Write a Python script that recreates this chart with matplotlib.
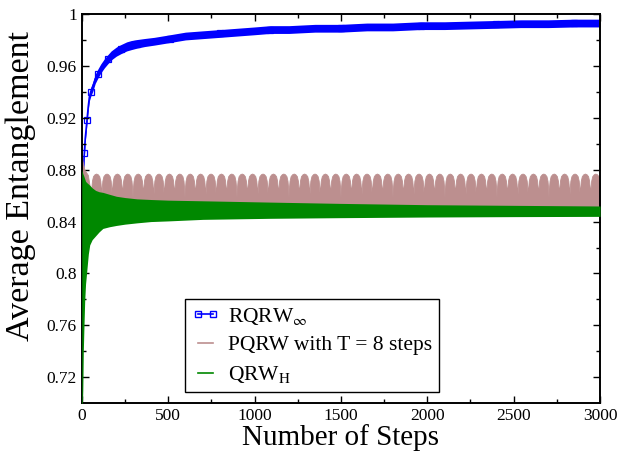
"""Average entanglement vs number of steps for three walk protocols."""

import matplotlib
matplotlib.use("Agg")
import matplotlib.pyplot as plt
import numpy as np

# --- RQRW_inf: centre of the (noisy) blue band
rqrw_steps = [0, 5, 10, 15, 20, 25, 30, 37, 44, 52, 64, 78, 93, 110, 131, 150,
              170, 200, 228, 260, 286, 320, 364, 420, 511, 600, 700, 801, 900,
              1000, 1091, 1200, 1350, 1500, 1650, 1800, 1961, 2100, 2250, 2400,
              2541, 2700, 2850, 3000]
rqrw_values = [0.845, 0.868, 0.882, 0.893, 0.904, 0.911, 0.918, 0.928, 0.936,
               0.940, 0.944, 0.950, 0.954, 0.958, 0.962, 0.965, 0.968, 0.971,
               0.973, 0.975, 0.976, 0.977, 0.978, 0.979, 0.981, 0.983, 0.984,
               0.985, 0.986, 0.987, 0.988, 0.988, 0.989, 0.989, 0.990, 0.990,
               0.991, 0.991, 0.9915, 0.992, 0.9925, 0.9925, 0.993, 0.993]
rqrw_spread = [0.002, 0.003, 0.003, 0.003, 0.003, 0.003, 0.003, 0.003, 0.003,
               0.0035, 0.0035, 0.0035, 0.0035, 0.0035, 0.0035, 0.0035, 0.0035,
               0.0035, 0.0035, 0.0035, 0.0035, 0.0033, 0.0031, 0.003, 0.003,
               0.003, 0.003, 0.003, 0.003, 0.003, 0.003, 0.003, 0.003, 0.003,
               0.003, 0.003, 0.003, 0.003, 0.003, 0.003, 0.003, 0.003, 0.003,
               0.003]

# --- PQRW (T = 8): upper envelope, start segment then repeated arches
pqrw_start_steps = [0, 3, 8, 15, 25, 35, 45]
pqrw_start_upper = [0.890, 0.888, 0.884, 0.880, 0.878, 0.876, 0.868]
pqrw_first_gap = 53
pqrw_period = 60.2
pqrw_arch_frac = [0.0, 0.04, 0.1, 0.2, 0.35, 0.5, 0.65, 0.8, 0.9, 0.96]
pqrw_arch_level = [0.858, 0.866, 0.8715, 0.875, 0.8765, 0.877, 0.8765, 0.875,
                   0.8715, 0.866]
pqrw_floor = 0.851

# --- QRW_H: envelope of the fast oscillation
qrw_steps = [0, 1, 2, 4, 6, 9, 12, 17, 22, 29, 38, 46, 60, 80, 100, 122, 160,
             200, 250, 319, 400, 500, 702, 1091, 1500, 2000, 2500, 3000]
qrw_upper = [0.881, 0.880, 0.879, 0.878, 0.877, 0.876, 0.875, 0.873, 0.871,
             0.870, 0.869, 0.868, 0.866, 0.864, 0.863, 0.8625, 0.861, 0.8595,
             0.8585, 0.8575, 0.857, 0.8565, 0.856, 0.855, 0.854, 0.853, 0.8525,
             0.852]
qrw_lower = [0.700, 0.700, 0.700, 0.700, 0.710, 0.740, 0.756, 0.779, 0.792,
             0.802, 0.815, 0.822, 0.826, 0.829, 0.832, 0.8347, 0.836, 0.837,
             0.838, 0.839, 0.840, 0.8405, 0.8417, 0.8425, 0.843, 0.8435,
             0.8438, 0.844]

x_ticks = [0, 500, 1000, 1500, 2000, 2500, 3000]
y_ticks = [0.72, 0.76, 0.8, 0.84, 0.88, 0.92, 0.96, 1.0]
y_tick_labels = ["0.72", "0.76", "0.8", "0.84", "0.88", "0.92", "0.96", "1"]

plt.rcParams["font.family"] = ["Liberation Serif", "DejaVu Serif"]
plt.rcParams["mathtext.fontset"] = "stix"

BLUE = "#0000ff"
PINK = "#bc8f8f"
GREEN = "#008800"


def pqrw_envelope():
    xs = list(pqrw_start_steps)
    ys = list(pqrw_start_upper)
    start = pqrw_first_gap
    while start < 3000:
        for f, v in zip(pqrw_arch_frac, pqrw_arch_level):
            xs.append(start + f * pqrw_period)
            ys.append(v)
        start += pqrw_period
    xs.append(start)
    ys.append(pqrw_arch_level[0])
    return np.array(xs), np.array(ys)


fig = plt.figure(figsize=(6.29, 4.51), dpi=100)
ax = fig.add_axes([0.130, 0.106, 0.824, 0.863])

steps = np.array(rqrw_steps)
centre = np.array(rqrw_values)
spread = np.array(rqrw_spread)
ax.fill_between(steps, centre - spread, centre + spread, color=BLUE, lw=0, zorder=1)
ax.plot(steps, centre, color=BLUE, lw=1.2, marker="s", ms=4.5, mfc="none",
        mec=BLUE, mew=0.9, markevery=3, zorder=1)

px, py = pqrw_envelope()
ax.fill_between(px, pqrw_floor, py, color=PINK, lw=0.6, edgecolor=PINK, zorder=2)

ax.fill_between(qrw_steps, qrw_lower, qrw_upper, color=GREEN, lw=0, zorder=3)

ax.set_xlim(0, 3000)
ax.set_ylim(0.70, 1.0)
ax.set_xticks(x_ticks)
ax.set_xticks(np.arange(250, 3000, 500), minor=True)
ax.set_yticks(y_ticks)
ax.set_yticklabels(y_tick_labels)
ax.set_yticks([0.74, 0.78, 0.82, 0.86, 0.90, 0.94, 0.98], minor=True)
ax.tick_params(which="both", direction="in", top=True, right=True,
               labelsize=12.5, width=1.0)
ax.tick_params(which="major", length=5)
ax.tick_params(which="minor", length=3)
for spine in ax.spines.values():
    spine.set_linewidth(1.4)

ax.set_xlabel("Number of Steps", fontsize=21, labelpad=0)
ax.set_ylabel("Average Entanglement", fontsize=24.5)
ax.yaxis.set_label_coords(-0.089, 0.558)

h_blue, = ax.plot([], [], color=BLUE, lw=1.2, marker="s", ms=4.5, mfc="none", mec=BLUE)
h_pink, = ax.plot([], [], color=PINK, lw=1.2)
h_green, = ax.plot([], [], color=GREEN, lw=1.2)
leg = ax.legend([h_blue, h_pink, h_green],
                [r"RQRW$_{\infty}$", "PQRW with T = 8 steps", r"QRW$_\mathrm{H}$"],
                loc="lower left", bbox_to_anchor=(0.2, 0.03), borderaxespad=0,
                fontsize=15.5, numpoints=2, handlelength=1.3, handletextpad=0.4,
                labelspacing=0.4, borderpad=0.3, fancybox=False, framealpha=1,
                edgecolor="black")
leg.get_frame().set_linewidth(1.0)

fig.savefig("out.png", dpi=100)
